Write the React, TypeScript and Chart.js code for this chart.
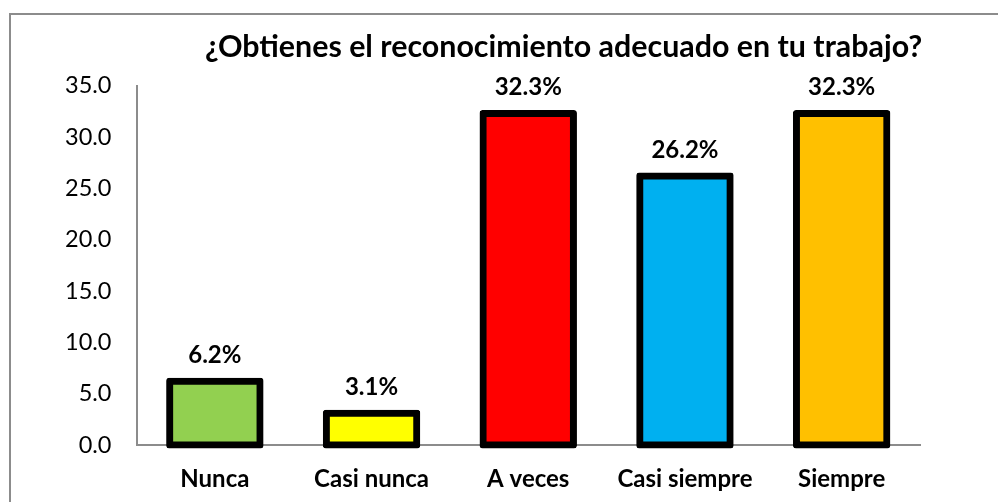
import React, { useEffect, useRef } from "react";
import { Chart, registerables } from "chart.js";

Chart.register(...registerables);

const TITLE = "¿Obtienes el reconocimiento adecuado en tu trabajo?";
const categories = ["Nunca", "Casi nunca", "A veces", "Casi siempre", "Siempre"];
const values = [6.2, 3.1, 32.3, 26.2, 32.3];
const barColors = ["#92D050", "#FFFF00", "#FF0000", "#00B0F0", "#FFC000"];
const yTicks = [0, 5, 10, 15, 20, 25, 30, 35];

const FONT = "Lato, 'Open Sans', sans-serif";

const framePlugin = {
  id: "frame",
  beforeDraw(chart: any) {
    const ctx = chart.ctx;
    ctx.save();
    ctx.fillStyle = "#ffffff";
    ctx.fillRect(0, 0, chart.width, chart.height);
    ctx.strokeStyle = "#8c8c8c";
    ctx.lineWidth = 2;
    ctx.strokeRect(10, 14, chart.width + 50, chart.height + 50);
    ctx.restore();
  },
};

const labelsPlugin = {
  id: "valueLabels",
  afterDatasetsDraw(chart: any) {
    const ctx = chart.ctx;
    const meta = chart.getDatasetMeta(0);
    ctx.save();
    ctx.font = `bold 24px ${FONT}`;
    ctx.fillStyle = "#000";
    ctx.textAlign = "center";
    ctx.textBaseline = "alphabetic";
    meta.data.forEach((el: any, i: number) => {
      ctx.fillText(values[i].toFixed(1) + "%", el.x, el.y - 3.5 - 15);
    });
    ctx.restore();
  },
};

const titlePlugin = {
  id: "customTitle",
  afterDraw(chart: any) {
    const ctx = chart.ctx;
    ctx.save();
    ctx.font = `bold 30.4px ${FONT}`;
    ctx.fillStyle = "#000";
    ctx.textAlign = "center";
    ctx.textBaseline = "alphabetic";
    ctx.fillText(TITLE, 563.5, 57);
    ctx.restore();
  },
};

export default function App() {
  const ref = useRef<HTMLCanvasElement | null>(null);
  useEffect(() => {
    if (!ref.current) return;
    const chart = new Chart(ref.current, {
      type: "bar",
      data: {
        labels: categories,
        datasets: [
          {
            data: values,
            backgroundColor: barColors,
            borderColor: "#000000",
            borderWidth: 7,
            borderRadius: 3,
            borderSkipped: false,
            inflateAmount: 3.5,
            categoryPercentage: 1,
            barPercentage: 0.577,
            clip: false,
          } as any,
        ],
      },
      options: {
        responsive: false,
        animation: false,
        devicePixelRatio: 1,
        layout: { padding: { top: 85.8, right: 78, left: 0, bottom: 0 } },
        plugins: {
          legend: { display: false },
          title: { display: false },
          tooltip: { enabled: false },
        },
        scales: {
          x: {
            grid: { display: false, drawTicks: false },
            border: { display: true, color: "#8c8c8c", width: 2 },
            ticks: {
              color: "#000",
              font: { family: FONT, size: 24, weight: "bold" },
              padding: 20,
            },
            afterFit(scale: any) {
              scale.height = 57;
            },
          },
          y: {
            min: 0,
            max: 35,
            grid: { display: false, drawTicks: false },
            border: { display: true, color: "#8c8c8c", width: 2 },
            afterBuildTicks(scale: any) {
              scale.ticks = yTicks.map((v) => ({ value: v }));
            },
            ticks: {
              color: "#000",
              font: { family: FONT, size: 23.5 },
              padding: 25,
              callback: (v: any) => Number(v).toFixed(1),
            },
            afterFit(scale: any) {
              scale.width = 136.5;
            },
          },
        },
      },
      plugins: [framePlugin, labelsPlugin, titlePlugin],
    });
    return () => chart.destroy();
  }, []);
  return (
    <div style={{ position: "fixed", left: 0, top: 0, width: 998, height: 502, background: "#fff" }}>
      <canvas ref={ref} width={998} height={502} style={{ width: 998, height: 502, display: "block" }} />
    </div>
  );
}
